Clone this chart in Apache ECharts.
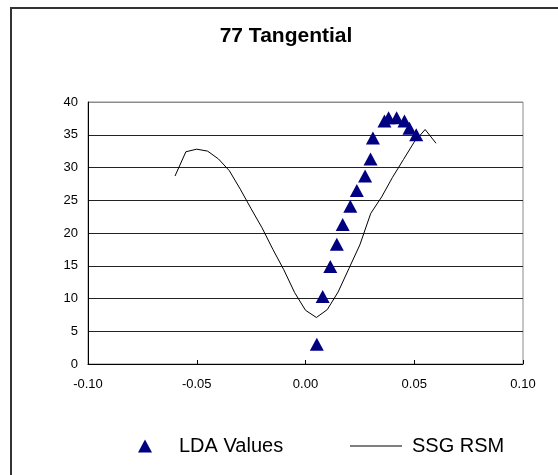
<!DOCTYPE html>
<html>
<head>
<meta charset="utf-8">
<style>
  html, body { margin: 0; padding: 0; background: #fff; }
  #chart { width: 558px; height: 475px; }
</style>
<script src="https://cdn.jsdelivr.net/npm/echarts@6/dist/echarts.min.js"></script>
</head>
<body>
<div id="chart"></div>
<script>
// Measured LDA values (x offset, value)
const ldaX = [0.0052, 0.0079, 0.0114, 0.0144, 0.0171, 0.0206, 0.0236, 0.0274, 0.0299, 0.0310,
              0.0363, 0.0382, 0.0419, 0.0455, 0.0478, 0.0509];
const ldaY = [3.0, 10.3, 14.9, 18.3, 21.3, 24.1, 26.5, 28.7, 31.3, 34.5,
              37.1, 37.6, 37.6, 37.1, 36.0, 35.0];

// SSG response-surface model curve
const rsmX = [-0.060, -0.055, -0.050, -0.045, -0.040, -0.035, -0.030, -0.025, -0.020, -0.015,
              -0.010, -0.005, 0.000, 0.005, 0.010, 0.015, 0.020, 0.025, 0.030, 0.035,
              0.040, 0.045, 0.050, 0.055, 0.060];
const rsmY = [28.7, 32.4, 32.8, 32.5, 31.3, 29.5, 26.7, 23.7, 20.8, 17.5,
              14.4, 10.9, 8.2, 7.1, 8.3, 11.0, 14.6, 18.2, 23.0, 25.5,
              28.5, 31.2, 33.9, 35.8, 33.7];

const xTicks = [-0.10, -0.05, 0.00, 0.05, 0.10];
const yTicks = [0, 5, 10, 15, 20, 25, 30, 35, 40];

const FONT = '"Liberation Sans", Arial, sans-serif';

const chart = echarts.init(document.getElementById('chart'), null, { renderer: 'canvas' });

chart.setOption({
  backgroundColor: '#fff',
  animation: false,
  title: {
    text: '77 Tangential',
    left: 286, top: 26,
    textAlign: 'center',
    padding: 0,
    textStyle: { fontFamily: FONT, fontSize: 21, fontWeight: 'bold', color: '#000' }
  },
  graphic: [
    { type: 'line', shape: { x1: 11, y1: 8, x2: 558, y2: 8 }, style: { stroke: '#333', lineWidth: 2 } },
    { type: 'line', shape: { x1: 11, y1: 7, x2: 11, y2: 475 }, style: { stroke: '#333', lineWidth: 2 } }
  ],
  grid: {
    left: 88, top: 102, right: 35, bottom: 111,
    show: true, borderColor: '#8c8c8c', borderWidth: 1, backgroundColor: 'transparent'
  },
  legend: [
    {
      data: [{ name: 'LDA Values', icon: 'triangle' }],
      left: 138, top: 435, padding: 0,
      itemWidth: 14, itemHeight: 13,
      textStyle: { fontFamily: FONT, fontSize: 20, lineHeight: 22, color: '#000', padding: [0, 0, 0, 22] }
    },
    {
      data: [{ name: 'SSG RSM', icon: 'rect' }],
      left: 350, top: 435, padding: 0,
      itemWidth: 52, itemHeight: 1,
      textStyle: { fontFamily: FONT, fontSize: 20, lineHeight: 22, color: '#000', padding: [0, 0, 0, 5] }
    }
  ],
  xAxis: {
    type: 'value',
    min: xTicks[0], max: xTicks[xTicks.length - 1], interval: 0.05,
    axisLine: { show: true, onZero: false, lineStyle: { color: '#000', width: 1 } },
    axisTick: { show: true, inside: true, length: 4, lineStyle: { color: '#000' } },
    splitLine: { show: false },
    axisLabel: {
      margin: 14, color: '#000', fontFamily: FONT, fontSize: 13,
      formatter: v => v.toFixed(2)
    }
  },
  yAxis: {
    type: 'value',
    min: yTicks[0], max: yTicks[yTicks.length - 1], interval: 5,
    axisLine: { show: true, onZero: false, lineStyle: { color: '#000', width: 1 } },
    axisTick: { show: false },
    splitLine: {
      show: true,
      lineStyle: { color: ['#000', '#222', '#222', '#222', '#222', '#222', '#222', '#222', '#8c8c8c'], width: 1 }
    },
    axisLabel: { margin: 10, color: '#000', fontFamily: FONT, fontSize: 13 }
  },
  series: [
    {
      name: 'LDA Values',
      type: 'scatter',
      symbol: 'triangle',
      symbolSize: [14, 13],
      itemStyle: { color: '#000080', opacity: 1 },
      data: ldaX.map((x, i) => [x, ldaY[i]]),
      z: 3
    },
    {
      name: 'SSG RSM',
      type: 'line',
      showSymbol: false,
      symbol: 'none',
      lineStyle: { color: '#000', width: 1 },
      itemStyle: { color: '#000' },
      data: rsmX.map((x, i) => [x, rsmY[i]]),
      z: 2
    }
  ]
});
</script>
</body>
</html>
